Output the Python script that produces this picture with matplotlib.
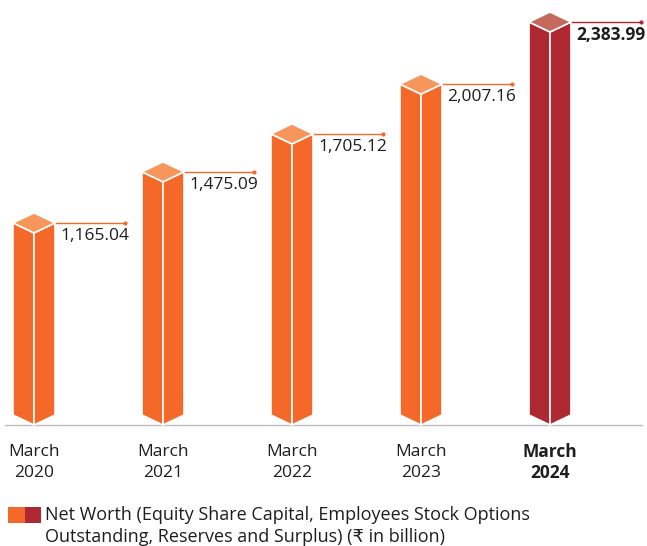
import numpy as np
import matplotlib.pyplot as plt
from matplotlib.patches import Polygon

plt.rcParams['font.family'] = ['Open Sans', 'DejaVu Sans']

# données
annees = ['2020', '2021', '2022', '2023', '2024']
valeurs = [1165.04, 1475.09, 1705.12, 2007.16, 2383.99]
etiquettes = ['1,165.04', '1,475.09', '1,705.12', '2,007.16', '2,383.99']

orange_face = '#F4692A'
orange_top = '#F7965A'
rouge_face = '#AE2832'
rouge_top = '#C46A5C'
texte = '#1E1E1E'

# échelle : 1 unité x = 129 px, 1 px = 1/0.16485 unités y
px_y = 1 / 0.16485
px_x = 1 / 129
demi = 21 * px_x
prof = 10 * px_y

fig = plt.figure(figsize=(6.47, 5.46), dpi=100)
ax = fig.add_axes([0, 0, 1, 1])
ax.set_xlim(-34 * px_x, (647 - 34) * px_x)
ax.set_ylim(-(546 - 415) * px_y, 415 * px_y)
ax.axis('off')

x = np.arange(len(valeurs))
for i, v in enumerate(valeurs):
    c = x[i]
    face = rouge_face if i == 4 else orange_face
    top = rouge_top if i == 4 else orange_top
    poids = 'bold' if i == 4 else 'normal'
    L, R = c - demi, c + demi
    gauche = [(L, v), (c, v - prof), (c, -prof), (L, 0)]
    droite = [(c, v - prof), (R, v), (R, 0), (c, -prof)]
    dessus = [(L, v), (c, v + prof), (R, v), (c, v - prof)]
    for pts, col in [(gauche, face), (droite, face), (dessus, top)]:
        ax.add_patch(Polygon(pts, closed=True, facecolor=col, edgecolor='white',
                             linewidth=1.2, joinstyle='miter', zorder=3))
    # ligne de rappel
    xf = R + 70 * px_x
    ax.plot([R, xf], [v, v], color=face, lw=1, zorder=2)
    ax.plot(xf, v, 'o', color=face, ms=2, zorder=2)
    ax.text(R + 5 * px_x, v - 13 * px_y, etiquettes[i], fontsize=12.5, color=texte,
            ha='left', va='center', fontweight=poids)
    ax.text(c, -(452 - 415) * px_y, 'March', fontsize=12.5, color=texte, ha='center',
            va='center', fontweight=poids)
    ax.text(c, -(473 - 415) * px_y, annees[i], fontsize=12.5, color=texte, ha='center',
            va='center', fontweight=poids)

# axe horizontal
ax.plot([-29 * px_x, (642 - 34) * px_x], [-prof, -prof], color='#BDBDBD', lw=1, zorder=1)

# légende
ly = -(515 - 415) * px_y
ax.add_patch(Polygon([(-26 * px_x, ly - 8 * px_y), (-9 * px_x, ly - 8 * px_y),
                      (-9 * px_x, ly + 8 * px_y), (-26 * px_x, ly + 8 * px_y)],
                     facecolor=orange_face, edgecolor='none'))
ax.add_patch(Polygon([(-9 * px_x, ly - 8 * px_y), (7 * px_x, ly - 8 * px_y),
                      (7 * px_x, ly + 8 * px_y), (-9 * px_x, ly + 8 * px_y)],
                     facecolor=rouge_face, edgecolor='none'))
ax.text(11 * px_x, ly, 'Net Worth (Equity Share Capital, Employees Stock Options',
        fontsize=13, color=texte, ha='left', va='center')
ax.text(11 * px_x, -(537 - 415) * px_y, 'Outstanding, Reserves and Surplus) (₹ in billion)',
        fontsize=13, color=texte, ha='left', va='center')

fig.savefig('out.png', dpi=100)
